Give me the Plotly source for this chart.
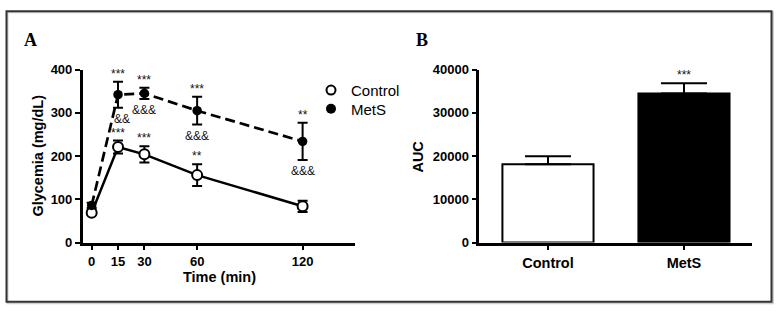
import plotly.graph_objects as go

# ---------------- data ----------------
time_min = [0, 15, 30, 60, 120]
control_mean = [69, 221, 204, 156, 84]
control_err = [5, 15, 19, 25, 13]
mets_mean = [86, 342, 345, 305, 234]
mets_err = [6, 30, 13, 32, 43]

control_sig_above = ["", "***", "***", "**", ""]
mets_sig_above = ["", "***", "***", "***", "**"]
mets_sig_below = ["", "&&", "&&&", "&&&", "&&&"]

auc_groups = ["Control", "MetS"]
auc_mean = [18100, 34500]
auc_err = [1850, 2350]
auc_sig = ["", "***"]

y_ticks_a = [0, 100, 200, 300, 400]
y_ticks_b = [0, 10000, 20000, 30000, 40000]

W, H = 777, 317
FONT = "Liberation Sans, Arial, sans-serif"
SERIF = "Liberation Serif, Times New Roman, serif"

def px_x(p):
    return p / W

def px_y(p):
    return 1 - p / H

fig = go.Figure()

fig.add_trace(go.Scatter(
    x=time_min, y=control_mean, mode="lines+markers", name="Control",
    line=dict(color="black", width=2.5),
    marker=dict(symbol="circle", size=10, color="white", line=dict(color="black", width=2)),
    error_y=dict(type="data", array=control_err, visible=True, color="black", thickness=2, width=5),
    showlegend=False, xaxis="x", yaxis="y", cliponaxis=False,
))
fig.add_trace(go.Scatter(
    x=time_min, y=mets_mean, mode="lines+markers", name="MetS",
    line=dict(color="black", width=2.7, dash="10px,5px"),
    marker=dict(symbol="circle", size=9.5, color="black"),
    error_y=dict(type="data", array=mets_err, visible=True, color="black", thickness=2, width=5),
    showlegend=False, xaxis="x", yaxis="y", cliponaxis=False,
))
fig.add_trace(go.Scatter(
    x=[None], y=[None], mode="markers", name="Control",
    marker=dict(symbol="circle", size=9, color="white", line=dict(color="black", width=2)),
    legend="legend", showlegend=True, xaxis="x", yaxis="y",
))
fig.add_trace(go.Scatter(
    x=[None], y=[None], mode="markers", name="MetS",
    marker=dict(symbol="circle", size=10, color="black"),
    legend="legend2", showlegend=True, xaxis="x", yaxis="y",
))

fig.add_trace(go.Bar(
    x=auc_groups, y=auc_mean, width=0.67,
    marker=dict(color=["white", "black"], line=dict(color="black", width=2)),
    error_y=dict(type="data", symmetric=False, array=auc_err, arrayminus=[0, 0],
                 visible=True, color="black", thickness=2, width=23),
    showlegend=False, xaxis="x2", yaxis="y2",
))

SIGFONT = dict(family=FONT, size=12, color="#111111")
annotations = []
for t, m, e, s in zip(time_min, control_mean, control_err, control_sig_above):
    if s:
        annotations.append(dict(x=t, y=m + e, xref="x", yref="y", text=s, showarrow=False,
                                xanchor="center", yanchor="bottom", yshift=-1, font=SIGFONT))
for t, m, e, s in zip(time_min, mets_mean, mets_err, mets_sig_above):
    if s:
        annotations.append(dict(x=t, y=m + e, xref="x", yref="y", text=s, showarrow=False,
                                xanchor="center", yanchor="bottom", yshift=-1, font=SIGFONT))
for t, m, e, s in zip(time_min, mets_mean, mets_err, mets_sig_below):
    if s:
        annotations.append(dict(x=t, y=m - e, xref="x", yref="y", text=s, showarrow=False,
                                xanchor="center", yanchor="top", yshift=-2, xshift=(4 if t == 15 else 0),
                                font=SIGFONT))
for g, m, e, s in zip(auc_groups, auc_mean, auc_err, auc_sig):
    if s:
        annotations.append(dict(x=g, y=m + e, xref="x2", yref="y2", text=s, showarrow=False,
                                xanchor="center", yanchor="bottom", yshift=-1, font=SIGFONT))

BOLD = dict(family=FONT, size=14.5, color="black", weight="bold")
annotations += [
    dict(x=px_x(30), y=px_y(35), xref="paper", yref="paper", text="A", showarrow=False,
         xanchor="center", yanchor="middle",
         font=dict(family=SERIF, size=18, color="black", weight="bold")),
    dict(x=px_x(422), y=px_y(35), xref="paper", yref="paper", text="B", showarrow=False,
         xanchor="center", yanchor="middle",
         font=dict(family=SERIF, size=18, color="black", weight="bold")),
    dict(x=px_x(38), y=px_y(156), xref="paper", yref="paper", text="Glycemia (mg/dL)", textangle=-90,
         xanchor="center", yanchor="middle", showarrow=False, font=BOLD),
    dict(x=px_x(219), y=px_y(283), xref="paper", yref="paper", text="Time (min)",
         xanchor="center", yanchor="middle", showarrow=False, font=BOLD),
    dict(x=px_x(418), y=px_y(157), xref="paper", yref="paper", text="AUC", textangle=-90,
         xanchor="center", yanchor="middle", showarrow=False, font=BOLD),
]

axis_common = dict(showline=True, linecolor="black", linewidth=2.5, ticks="outside",
                   ticklen=5, tickwidth=2, tickcolor="black", showgrid=False, zeroline=False,
                   tickfont=dict(family=FONT, size=13, color="black", weight="bold"))

fig.update_layout(
    width=W, height=H,
    margin=dict(l=0, r=0, t=0, b=0),
    paper_bgcolor="white", plot_bgcolor="white",
    xaxis=dict(domain=[px_x(82.7), px_x(355)], range=[-5.1, 149.8], tickvals=time_min,
               anchor="y", **axis_common),
    yaxis=dict(domain=[px_y(247.3), px_y(65.7)], range=[0, 400], tickvals=y_ticks_a,
               anchor="x", **axis_common),
    xaxis2=dict(domain=[px_x(479.3), px_x(751.7)], range=[-0.505, 1.498], type="category",
                anchor="y2", **{**axis_common, "tickfont": dict(family=FONT, size=14.5, color="black", weight="bold")}),
    yaxis2=dict(domain=[px_y(247.3), px_y(65.7)], range=[0, 40000], tickvals=y_ticks_b,
                tickformat="d", anchor="x2", **axis_common),
    legend=dict(x=px_x(311), y=px_y(87.5), xanchor="left", yanchor="middle",
                bgcolor="rgba(0,0,0,0)", font=dict(family=FONT, size=15, color="black")),
    legend2=dict(x=px_x(311), y=px_y(107), xanchor="left", yanchor="middle",
                 bgcolor="rgba(0,0,0,0)", font=dict(family=FONT, size=15, color="black")),
    annotations=annotations,
    shapes=[
        dict(type="rect", xref="paper", yref="paper", x0=px_x(7.5), x1=px_x(773), y0=px_y(311), y1=px_y(5.5),
             line=dict(color="#cfcfcf", width=2), layer="below"),
        dict(type="rect", xref="paper", yref="paper", x0=px_x(6.5), x1=px_x(771.5), y0=px_y(309.5), y1=px_y(4.5),
             line=dict(color="#333333", width=2), layer="below"),
    ],
)

fig.write_html(
    "out.html",
    config={"displayModeBar": False},
    post_script="document.body.style.margin='0';document.body.style.overflow='hidden';",
)
